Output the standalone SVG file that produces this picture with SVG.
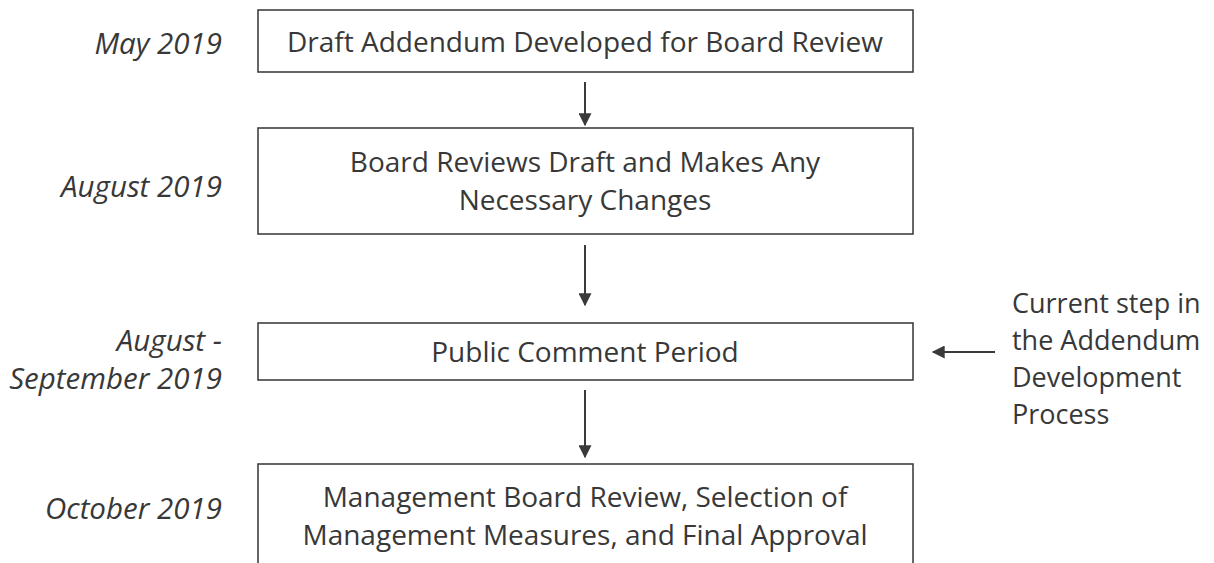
<svg xmlns="http://www.w3.org/2000/svg" width="1214" height="563" viewBox="0 0 1214 563">
<defs>
<style>
.box{fill:#fff;stroke:#404040;stroke-width:1.6}
.t{font-family:"Open Sans","Liberation Sans",sans-serif;font-size:28px;fill:#383838;text-anchor:middle}
.d{font-family:"Open Sans","Liberation Sans",sans-serif;font-size:29.5px;fill:#383838;font-style:italic;text-anchor:end}
.s{font-family:"Open Sans","Liberation Sans",sans-serif;font-size:27px;fill:#383838}
.c{stroke:#3a3a3a;stroke-width:2;fill:none;marker-end:url(#ah)}
</style>
<marker id="ah" viewBox="0 0 10 10" refX="9" refY="5" markerWidth="7.5" markerHeight="6.5" orient="auto" markerUnits="strokeWidth">
<path d="M0,0 L10,5 L0,10 z" fill="#3a3a3a"/>
</marker>
</defs>
<rect width="1214" height="563" fill="#fff"/>
<g id="dates">
<text class="d" x="222" y="54">May 2019</text>
<text class="d" x="222" y="197">August 2019</text>
<text class="d" x="222" y="351">August -</text>
<text class="d" x="222" y="389">September 2019</text>
<text class="d" x="222" y="519">October 2019</text>
</g>
<g id="n1">
<rect class="box" x="258" y="10" width="655" height="62"/>
<text class="t" x="585" y="52">Draft Addendum Developed for Board Review</text>
</g>
<g id="n2">
<rect class="box" x="258" y="128" width="655" height="106"/>
<text class="t" x="585" y="172">Board Reviews Draft and Makes Any</text>
<text class="t" x="585" y="210">Necessary Changes</text>
</g>
<g id="n3">
<rect class="box" x="258" y="323" width="655" height="57"/>
<text class="t" x="585" y="362">Public Comment Period</text>
</g>
<g id="n4">
<rect class="box" x="258" y="464" width="655" height="120"/>
<text class="t" x="585" y="507">Management Board Review, Selection of</text>
<text class="t" x="585" y="545">Management Measures, and Final Approval</text>
</g>
<g id="note">
<text class="s" x="1012" y="313">Current step in</text>
<text class="s" x="1012" y="350">the Addendum</text>
<text class="s" x="1012" y="387">Development</text>
<text class="s" x="1012" y="424">Process</text>
</g>
<g id="connectors">
<path class="c" d="M585,82 V125"/>
<path class="c" d="M585,245 V305"/>
<path class="c" d="M585,390 V457"/>
<path class="c" d="M995,352 H933"/>
</g>
</svg>
